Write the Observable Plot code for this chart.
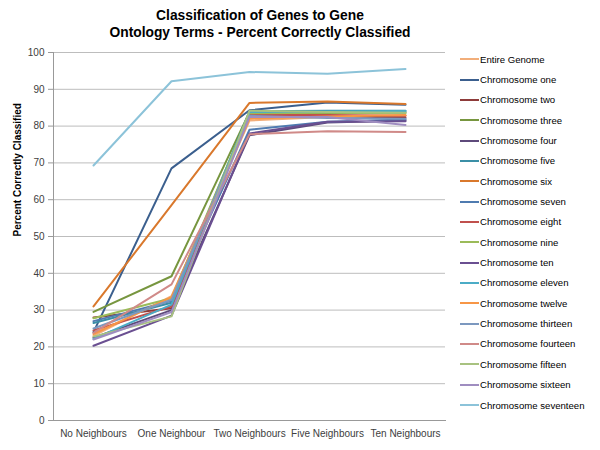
<!DOCTYPE html>
<html>
<head>
<meta charset="utf-8">
<script src="https://cdn.jsdelivr.net/npm/d3@7"></script>
<script src="https://cdn.jsdelivr.net/npm/@observablehq/plot@0.6"></script>
<style>
  body { margin: 0; background: #fff; font-family: "Liberation Sans", Arial, sans-serif; }
  #wrap { position: relative; width: 600px; height: 450px; overflow: hidden; }
  #title { position: absolute; top: 8px; left: 0; width: 520px; text-align: center; font-weight: bold; font-size: 13.8px; line-height: 16.5px; color: #000; }
  #legend { position: absolute; left: 460px; top: 49px; font-size: 9.6px; color: #000; }
  .li { display: flex; align-items: center; height: 20.35px; }
  .sw { width: 19px; height: 2px; margin-right: 1px; }
</style>
</head>
<body>
<div id="wrap">
  <div id="chart"></div>
  <div id="title">Classification of Genes to Gene<br>Ontology Terms - Percent Correctly Classified</div>
  <div id="legend"></div>
</div>
<script>
const categories = ["No Neighbours", "One Neighbour", "Two Neighbours", "Five Neighbours", "Ten Neighbours"];
const seriesNames = ["Entire Genome", "Chromosome one", "Chromosome two", "Chromosome three", "Chromosome four", "Chromosome five", "Chromosome six", "Chromosome seven", "Chromosome eight", "Chromosome nine", "Chromosome ten", "Chromosome eleven", "Chromosome twelve", "Chromosome thirteen", "Chromosome fourteen", "Chromosome fifteen", "Chromosome sixteen", "Chromosome seventeen"];
const seriesColors = ["#F2AE7A", "#3B5F8E", "#8E3B3A", "#77963F", "#5E4A7B", "#3B8FA6", "#D9782C", "#4F7BB0", "#C0504D", "#9BBB59", "#6A4F91", "#4BACC6", "#F79646", "#7C98BF", "#D08A88", "#A8C280", "#9F8DC0", "#8CC3D9"];
const entireGenome = [23.0, 33.8, 81.5, 82.5, 82.8];
const chrOne = [24.0, 68.5, 84.3, 86.4, 85.8];
const chrTwo = [28.0, 30.5, 83.2, 82.8, 82.3];
const chrThree = [29.5, 39.2, 83.8, 83.5, 83.8];
const chrFour = [22.5, 30.0, 77.5, 81.0, 81.5];
const chrFive = [26.5, 32.0, 84.0, 84.2, 84.2];
const chrSix = [31.0, 58.5, 86.3, 86.7, 86.0];
const chrSeven = [27.0, 32.5, 79.0, 81.2, 81.8];
const chrEight = [24.5, 31.0, 83.0, 83.0, 82.8];
const chrNine = [27.8, 33.2, 83.5, 83.6, 83.5];
const chrTen = [20.3, 28.5, 78.0, 81.2, 81.3];
const chrEleven = [22.2, 31.5, 83.8, 84.0, 84.1];
const chrTwelve = [23.5, 33.5, 82.0, 82.6, 83.0];
const chrThirteen = [25.0, 32.8, 82.8, 82.2, 82.0];
const chrFourteen = [23.8, 37.0, 77.8, 78.6, 78.4];
const chrFifteen = [22.8, 28.3, 84.2, 83.8, 83.6];
const chrSixteen = [22.0, 29.5, 82.5, 82.5, 80.3];
const chrSeventeen = [69.3, 92.2, 94.7, 94.2, 95.5];
const yTicks = [0, 10, 20, 30, 40, 50, 60, 70, 80, 90, 100];

const allSeries = [entireGenome, chrOne, chrTwo, chrThree, chrFour, chrFive, chrSix, chrSeven, chrEight, chrNine, chrTen, chrEleven, chrTwelve, chrThirteen, chrFourteen, chrFifteen, chrSixteen, chrSeventeen];
const data = [];
allSeries.forEach((vals, i) => vals.forEach((v, j) => data.push({series: seriesNames[i], cat: categories[j], value: v})));

const chart = Plot.plot({
  width: 600,
  height: 450,
  marginLeft: 53,
  marginRight: 155,
  marginTop: 52,
  marginBottom: 30,
  style: {fontFamily: "Liberation Sans, Arial, sans-serif", fontSize: "10px", color: "#404040", background: "#fff"},
  x: {type: "point", domain: categories, padding: 0.5, label: null},
  y: {domain: [0, 100], ticks: yTicks, label: null},
  color: {domain: seriesNames, range: seriesColors},
  marks: [
    Plot.gridY(yTicks, {stroke: "#BDBDBD", strokeOpacity: 1, strokeWidth: 1}),
    Plot.axisY({ticks: yTicks, tickSize: 5, stroke: "#999", tickPadding: 4, fontSize: 10}),
    Plot.lineY(data, {x: "cat", y: "value", z: "series", stroke: "series", strokeWidth: 2}),
    Plot.axisX({tickSize: 0, tickPadding: 9, fontSize: 10}),
    Plot.frame({anchor: "left", stroke: "#999"}),
    Plot.frame({anchor: "bottom", stroke: "#999"}),
    Plot.text(["Percent Correctly Classified"], {frameAnchor: "left", dx: -36, rotate: -90, fontWeight: "bold", fontSize: 10, fill: "#000"})
  ]
});
document.getElementById("chart").appendChild(chart);

const legend = document.getElementById("legend");
seriesNames.forEach((name, i) => {
  const row = document.createElement("div");
  row.className = "li";
  const sw = document.createElement("div");
  sw.className = "sw";
  sw.style.background = seriesColors[i];
  const t = document.createElement("span");
  t.textContent = name;
  row.appendChild(sw);
  row.appendChild(t);
  legend.appendChild(row);
});
</script>
</body>
</html>
